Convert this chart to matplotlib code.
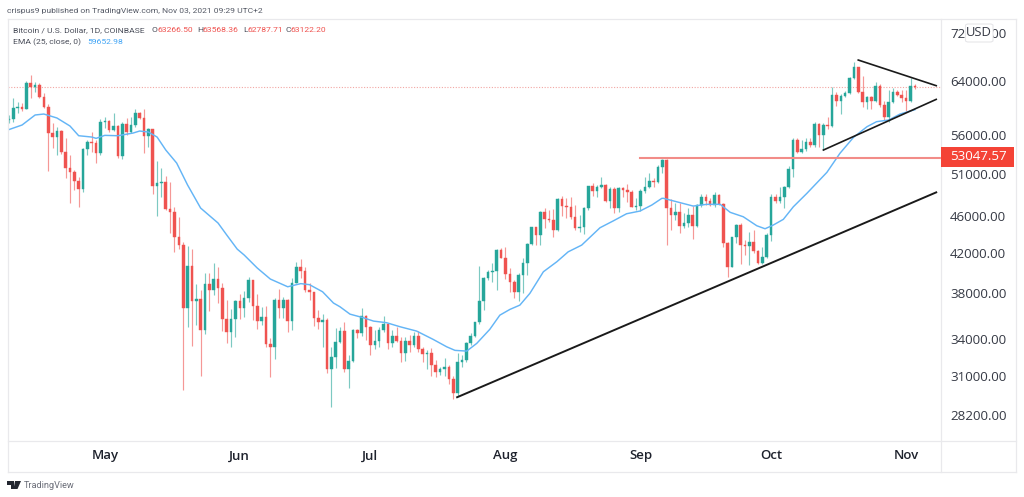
import numpy as np
import matplotlib
matplotlib.use("Agg")
import matplotlib.pyplot as plt
from matplotlib.patches import FancyBboxPatch, Rectangle, Polygon
from matplotlib.lines import Line2D
from matplotlib.ticker import NullLocator, FixedLocator, FixedFormatter

closes = [
58300,59940,60090,59790,63650,63020,63330,61490,60090,56290,
55780,56610,53770,51690,51190,50110,49140,54160,55100,54920,
53600,57880,58020,56710,57310,53240,57630,56510,57450,59120,
58450,55910,56850,49500,49790,49950,46750,46400,43610,42790,
36690,40650,37330,37450,34740,38890,38320,39340,38540,35660,
34570,35660,37330,36630,37600,39270,36870,35510,35840,33530,
33340,37390,36630,37390,35540,39010,40580,40180,38320,38100,
35800,35450,35600,31570,32480,33700,34650,31570,32210,34710,
34510,35960,35020,33480,33810,34740,35250,33670,34230,33830,
32850,33810,33480,34250,33130,32750,32850,31850,31310,31540,
31750,30800,29740,32110,32270,33670,34250,35400,37300,39490,
40020,40120,42270,41480,39830,39110,38160,39760,40920,42870,
44690,43830,46370,45610,45500,44400,47910,47130,47010,45870,
44650,44760,46830,49420,48900,49340,49550,47670,49100,46830,
49180,48980,48780,47010,47130,48860,49380,50110,49950,51860,
52720,46890,46060,46440,44870,45200,46060,44870,47210,48180,
47710,47210,48380,47320,42970,40580,43610,44950,42790,42690,
43140,42170,40980,41580,43860,48180,47670,48180,49300,51570,
55370,53800,54120,55060,54700,57550,56060,57450,57310,61840,
60930,61690,62190,64520,66180,62300,60780,61490,60980,63220,
60340,58550,60740,62340,61840,61340,60980,63266.5,63122.2]

opens = [
58160,58300,59940,60090,59790,63650,63020,63330,61490,60090,
56290,55780,56610,53770,51690,51190,50110,49140,54160,55100,
54920,53600,57880,58020,56710,57310,53240,57630,56510,57450,
59120,58450,55910,56850,49500,49790,49950,46750,46400,43610,
42790,36690,40650,37330,37450,34740,38890,38320,39340,38540,
35660,34570,35660,37330,36630,37600,39270,36870,35510,35840,
33530,33340,37390,36630,37390,35540,39010,40580,40180,38320,
38100,35800,35450,35600,31570,32480,33700,34650,31570,32210,
34710,34510,35960,35020,33480,33810,34740,35250,33670,34230,
33830,32850,33810,33480,34250,33130,32750,32850,31850,31310,
31540,31750,30800,29740,32110,32270,33670,34250,35400,37300,
39490,40020,40120,42270,41480,39830,39110,38160,39760,40920,
42870,44690,43830,46370,45610,45500,44400,47910,47130,47010,
45870,44650,44760,46830,49420,48900,49340,49550,47670,49100,
46830,49180,48980,48780,47010,47130,48860,49380,50110,49950,
51860,52720,46890,46060,46440,44870,45200,46060,44870,47210,
48180,47710,47210,48380,47320,42970,40580,43610,44950,42790,
42690,43140,42170,40980,41580,43860,48180,47670,48180,49300,
51570,55370,53800,54120,55060,54700,57550,56060,57450,57310,
61840,60930,61690,62190,64520,66180,62300,60780,61490,60980,
63220,60340,58550,60740,62340,61840,61340,60980,63266.5]

highs = [
58880,61340,60830,60680,64000,64950,63890,63650,62190,60490,
57780,57210,56750,55600,53370,51440,50610,54250,55370,56510,
55370,58260,58630,58160,59120,57450,57920,58400,58630,59700,
59350,59700,56990,56850,52590,51650,50690,49990,46940,45870,
43110,42690,42370,38890,38320,39980,39980,40980,40520,38960,
37390,36540,37390,37920,38220,39530,39270,37950,36780,36870,
34030,37550,38410,37700,37450,39430,41080,41320,40580,38960,
38160,36480,36120,35750,33340,34880,35020,35450,32670,34800,
34800,36690,36030,35080,34740,35020,35970,35250,34740,35020,
34120,34120,34310,34600,34650,33290,33070,33210,32270,31750,
32400,31880,31020,32800,32670,33750,34460,35450,40680,39590,
40250,40920,42340,42440,42610,40420,39270,39920,41480,42970,
44760,44760,46520,46830,46630,46710,47990,48260,47990,48110,
47210,46060,46940,49460,49870,49590,50610,49680,49380,49380,
49300,49380,49680,48980,47990,49060,50530,51100,50410,52070,
52850,52810,47910,47440,47400,46250,46860,47090,47320,48500,
48470,48060,48780,48500,47400,43140,43670,45060,45130,43320,
44220,44400,42270,42610,44110,48470,48500,49380,49500,51950,
55680,55600,55370,55600,55600,57920,57690,57780,58630,63020,
62340,61940,62490,64680,67100,66280,64740,61690,61690,63800,
63490,60980,62600,62960,62600,62600,62600,64520,63568.36]

lows = [
57780,57920,59210,59500,59700,61340,62340,61340,59850,51310,
54250,53370,53500,50410,47470,48980,47010,48780,53370,53800,
52370,53370,56990,56510,56650,53020,52890,56060,56290,57210,
58260,53670,54470,48510,45950,48180,46630,44070,42090,42370,
29980,34990,33420,35170,31040,34400,36420,37850,37140,34680,
33620,33340,34170,35660,35890,37230,35600,34800,35170,33340,
30970,32350,35750,35750,34600,34740,38950,39430,38160,37390,
35080,34800,33290,31230,28780,31620,33640,31310,30150,32130,
34030,34230,33890,32670,33130,33290,34600,33130,33290,33750,
32090,32190,32930,33340,32930,32130,31570,31040,30970,31100,
31020,30420,29300,29540,31700,32130,33480,34170,35250,36480,
39270,39110,38320,41420,39370,38160,37600,37330,38010,39760,
42790,42790,42790,44650,45310,43670,44290,45950,45690,45580,
44400,44220,43970,46630,48300,48180,49180,47590,46830,46320,
46440,48180,47590,46940,46630,46520,48660,49180,49380,49870,
51100,42790,44400,45500,44110,44590,44760,43430,44690,47010,
47210,47090,47010,47210,42550,39590,40520,42970,40850,41760,
40750,41930,40850,40850,41420,43250,47470,47470,46890,49180,
50530,53670,53670,53900,54470,54470,54470,54030,56850,57130,
60230,59020,61490,61990,64270,62190,60090,59700,59700,60830,
60090,58160,57920,60590,61690,60830,59500,60830,62787.71]

ema_days = [-0.3,3,6,8,11,14,16,19,20,22,25,28.5,30,32,34,36,38.5,41,44,48,50,52.4,54,57,60,64,67,69,72,
            74.5,76,78.3,81.4,83.7,86.7,89.8,93.6,97.4,100.5,102.4,105.1,107.4,110.4,112.7,115,117.3,119.6,
            122.7,125.8,128.4,131.5,135.7,138.8,141.8,144.9,147.6,149.9,150.3,153.3,157.1,160.2,163.3,165.6,
            168.6,171.7,173.6,175.5,177.8,180.1,183.2,187.8,190.8,193.9,197,199.2,202,204.6,208]
ema_vals = [56750,57450,58880,59020,58450,57310,55960,55780,55600,56010,55960,56330,56610,56470,55780,54030,
            52330,49590,46860,45170,43860,42370,41760,40450,39370,38630,38930,38830,38160,
            37120,36780,36120,35800,35510,35370,35020,34650,33950,33340,33050,32990,33620,34800,36030,36540,
            36930,38010,40080,41080,42090,42790,44650,45420,46210,46520,47210,47990,47990,47590,47090,47290,
            47290,46370,45870,44870,44540,44950,45580,47010,48580,51150,53600,55730,57210,57920,58160,59020,59652.98]

trend_main_days = [102.9, 212.9]
trend_main_vals = [29460, 48700]
wedge_top_days = [195, 212.9]
wedge_top_vals = [67380, 63270]
wedge_low_days = [187, 212.9]
wedge_low_vals = [54030, 61180]
resistance_day = 145
resistance = 53047.57
last_close = 63122.20

price_ticks = [72000, 64000, 56000, 51000, 46000, 42000, 38000, 34000, 31000, 28200]
month_days = [22, 53, 83, 114, 145, 175, 206]
month_labels = ["May", "Jun", "Jul", "Aug", "Sep", "Oct", "Nov"]

UP, DOWN = "#26a69a", "#ef5350"
W, H = 1024, 497
plt.rcParams["font.family"] = ["Open Sans", "DejaVu Sans"]

def fx(x): return x / W
def fy(y): return 1 - y / H

fig = plt.figure(figsize=(W / 100, H / 100), dpi=100, facecolor="white")
L, R, T, B = 8, 941, 19, 441
ax = fig.add_axes([fx(L), fy(B), (R - L) / W, (B - T) / H])
ax.set_yscale("log")
ax.set_xlim(-0.23, 214.0)
ax.set_ylim(26460, 74517)

x = np.arange(len(closes))
o, c, h, l = map(np.array, (opens, closes, highs, lows))
up = c >= o
cols = np.where(up, UP, DOWN)
ax.vlines(x, l, h, colors=cols, linewidth=0.85, alpha=0.6, zorder=2)
ax.bar(x, np.abs(c - o), bottom=np.minimum(o, c), width=0.6, color=cols,
       edgecolor=cols, linewidth=0.3, zorder=3)

ax.plot(ema_days, ema_vals, color="#64b5f6", lw=1.05, zorder=4)
ax.axhline(last_close, color="#f2a6a3", lw=0.8, ls=(0, (1, 1.5)), zorder=1)

ax.plot(trend_main_days, trend_main_vals, color="#1a1a1a", lw=1.4, zorder=5)
ax.plot(wedge_top_days, wedge_top_vals, color="#1a1a1a", lw=1.2, zorder=5)
ax.plot(wedge_low_days, wedge_low_vals, color="#1a1a1a", lw=1.2, zorder=5)
ax.plot([resistance_day, 214], [resistance, resistance], color="#f28c88", lw=1.5, zorder=5)

for s in ax.spines.values():
    s.set_visible(False)
ax.yaxis.tick_right()
ax.yaxis.set_major_locator(FixedLocator(price_ticks))
ax.yaxis.set_major_formatter(FixedFormatter([f"{p:.2f}" for p in price_ticks]))
ax.yaxis.set_minor_locator(NullLocator())
ax.tick_params(axis="y", length=0, pad=6.5, labelsize=9.6, labelcolor="#363a45")
ax.set_xticks(month_days, month_labels)
ax.tick_params(axis="x", length=0, pad=6, labelsize=9.5, labelcolor="#1e222d")
for t in ax.get_xticklabels():
    t.set_fontweight(600)

edge = "#e9e9ec"
for xs, ys in [((L, 1016), (T, T)), ((L, 1016), (472, 472)), ((L, L), (T, 472)),
               ((1016, 1016), (T, 472)), ((R, R), (T, 472)), ((L, 1016), (B, B))]:
    fig.add_artist(Line2D([fx(a) for a in xs], [fy(b) for b in ys], color=edge, lw=0.9))

# USD button over the top price label
fig.add_artist(FancyBboxPatch((fx(965.5), fy(42)), 27.5 / W, 18 / H,
                              boxstyle="round,pad=0,rounding_size=0.003",
                              fc="white", ec="#e6e6e9", lw=0.8, zorder=6))
fig.text(fx(979), fy(33), "USD", ha="center", va="center", fontsize=9.4,
         color="#363a45", zorder=7)

# Last resistance price tag
fig.add_artist(Rectangle((fx(941), fy(167)), 73 / W, 20 / H, fc="#f44336", ec="none", zorder=6))
fig.text(fx(978.5), fy(157), f"{resistance:.2f}", ha="center", va="center", fontsize=9.6,
         color="white", zorder=7)

# Header and legend
hf = ["Roboto", "DejaVu Sans"]
fig.text(fx(7), fy(11), "crispus9 published on TradingView.com, Nov 03, 2021 09:29 UTC+2",
         fontsize=6.1, family=hf, color="#555a66", va="center")
lg = "#4a4e5a"
red = "#ef5350"
fig.text(fx(13), fy(30), "Bitcoin / U.S. Dollar, 1D, COINBASE", fontsize=6.1, family=hf, color=lg, va="center")
for xl, lab, xv, val in [(152, "O", 157.5, "63266.50"), (197, "H", 202.5, "63568.36"),
                         (243, "L", 247, "62787.71"), (285, "C", 290.5, "63122.20")]:
    fig.text(fx(xl), fy(30), lab, fontsize=6.1, family=hf, color=lg, va="center")
    fig.text(fx(xv), fy(30), val, fontsize=6.1, family=hf, color=red, va="center")
fig.text(fx(13), fy(42), "EMA (25, close, 0)", fontsize=6.1, family=hf, color=lg, va="center")
fig.text(fx(87), fy(42), "59652.98", fontsize=6.1, family=hf, color="#42a5f5", va="center")

# TradingView footer
fig.add_artist(Polygon([(fx(7), fy(481)), (fx(14), fy(481)), (fx(14), fy(489)), (fx(10.5), fy(489)),
                        (fx(10.5), fy(484.5)), (fx(7), fy(484.5))], closed=True, fc="#222630", ec="none"))
fig.add_artist(Polygon([(fx(15), fy(481)), (fx(21), fy(481)), (fx(17.5), fy(489)), (fx(13.5), fy(489))],
                       closed=True, fc="#222630", ec="none"))
fig.text(fx(24), fy(485), "TradingView", fontsize=6.6, family=hf, color="#6a6d78", va="center")

fig.savefig("out.png", dpi=100, facecolor="white")
